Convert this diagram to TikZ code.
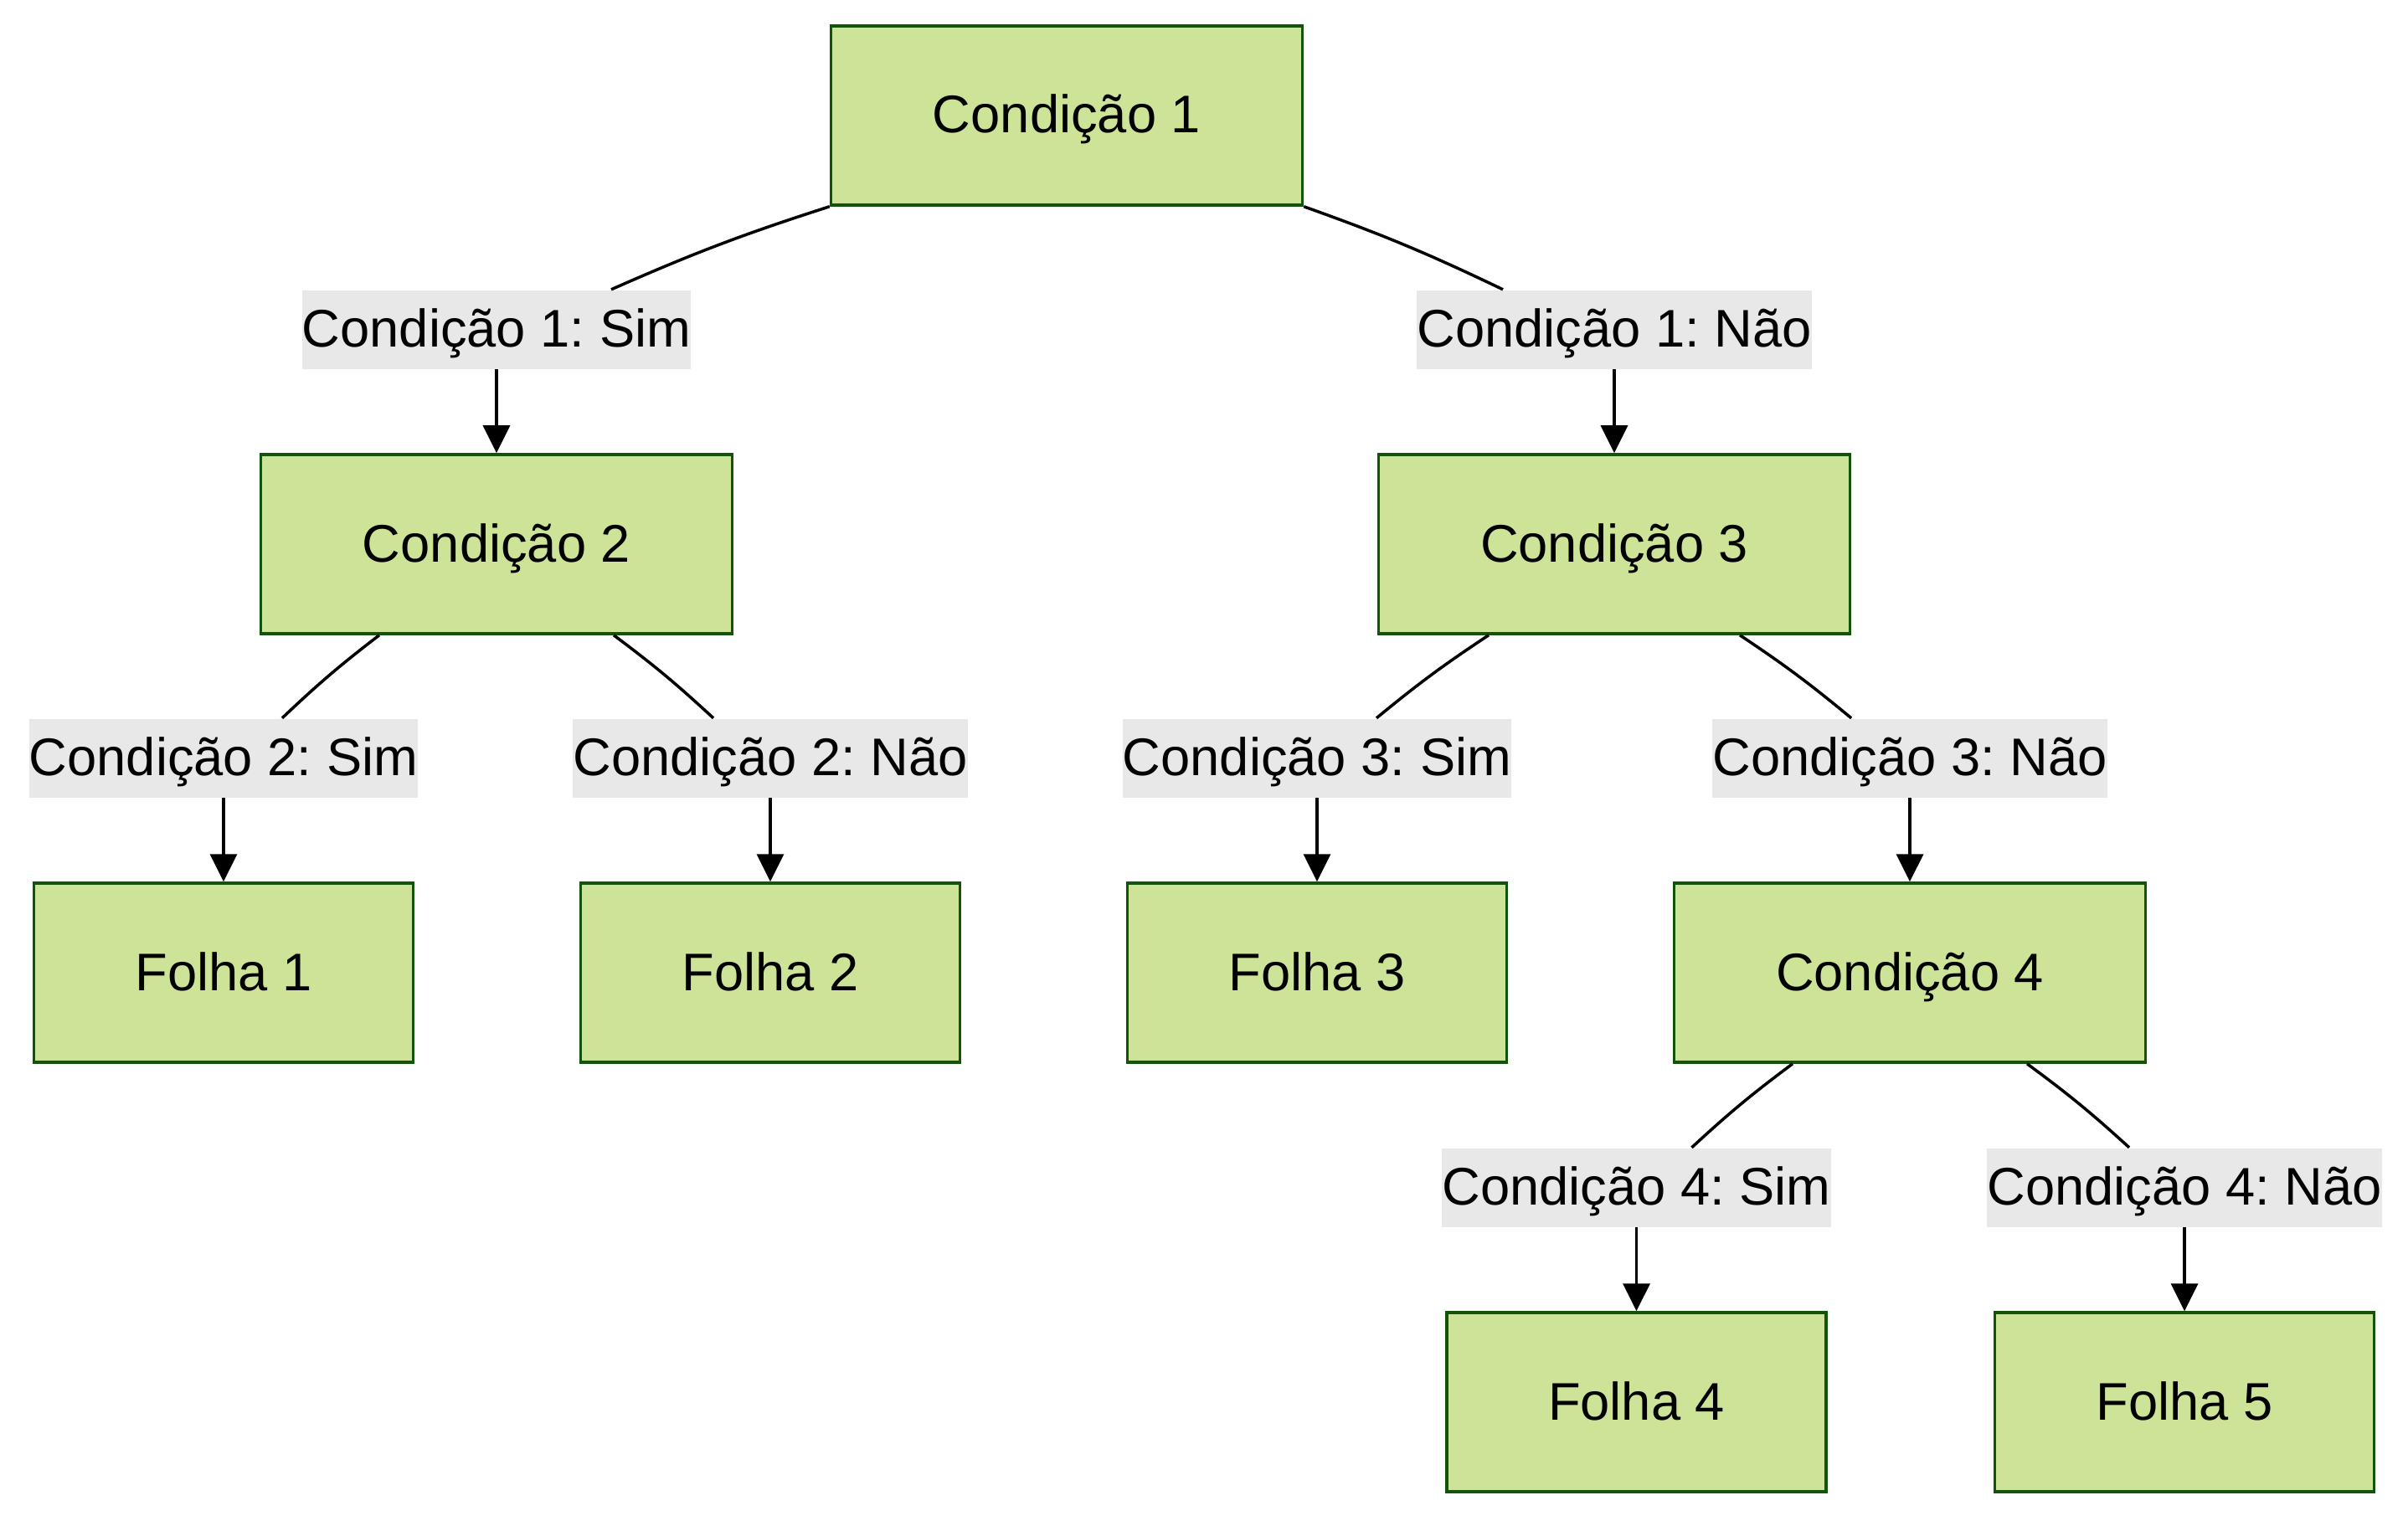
\documentclass[tikz,border=0pt]{standalone}
\usepackage{fontspec}
\setmainfont{Liberation Sans}
\frenchspacing
\usetikzlibrary{arrows.meta,positioning}
\definecolor{boxfill}{HTML}{CDE498}
\definecolor{boxline}{HTML}{13540C}
\definecolor{lblfill}{HTML}{E8E8E8}

\begin{document}
\begin{tikzpicture}[
    font=\fontsize{18}{22}\selectfont,
    txt/.style={text height=0.57cm,text depth=0.15cm},
    cond/.style={txt,draw=boxline,fill=boxfill,line width=1pt,minimum width=5.63cm,minimum height=2.14cm},
    leaf/.style={cond,minimum width=4.53cm},
    lbl/.style={txt,fill=lblfill,inner xsep=0pt,inner ysep=0pt,minimum height=0.94cm},
    link/.style={line width=1pt},
    arr/.style={link,-{Triangle[length=3.3mm,width=3.2mm]}}]
    \useasboundingbox (0,0) rectangle (28.76,-18.16);
    \node[cond] (c1) at (12.74,-1.38) {Condição 1};
    \node[cond] (c2) at (5.93,-6.50) {Condição 2};
    \node[cond] (c3) at (19.28,-6.50) {Condição 3};
    \node[leaf] (f1) at (2.67,-11.62) {Folha 1};
    \node[leaf] (f2) at (9.20,-11.62) {Folha 2};
    \node[leaf] (f3) at (15.73,-11.62) {Folha 3};
    \node[cond] (c4) at (22.81,-11.62) {Condição 4};
    \node[leaf] (f4) at (19.545,-16.75) {Folha 4};
    \node[leaf] (f5) at (26.09,-16.75) {Folha 5};

    \node[lbl] (s1) [above=1cm of c2] {Condição 1: Sim};
    \node[lbl] (n1) [above=1cm of c3] {Condição 1: Não};
    \node[lbl] (s2) [above=1cm of f1] {Condição 2: Sim};
    \node[lbl] (n2) [above=1cm of f2] {Condição 2: Não};
    \node[lbl] (s3) [above=1cm of f3] {Condição 3: Sim};
    \node[lbl] (n3) [above=1cm of c4] {Condição 3: Não};
    \node[lbl] (s4) [above=1cm of f4] {Condição 4: Sim};
    \node[lbl] (n4) [above=1cm of f5] {Condição 4: Não};

    \draw[link] (c1.south west) to[bend right=3] ([xshift=1.37cm]s1.north);
    \draw[arr] (s1) -- (c2);
    \draw[link] (c1.south east) to[bend left=3] ([xshift=-1.33cm]n1.north);
    \draw[arr] (n1) -- (c3);
    \draw[link] ([xshift=-1.4cm]c2.south) to[bend right=3] ([xshift=0.7cm]s2.north);
    \draw[arr] (s2) -- (f1);
    \draw[link] ([xshift=1.4cm]c2.south) to[bend left=3] ([xshift=-0.68cm]n2.north);
    \draw[arr] (n2) -- (f2);
    \draw[link] ([xshift=-1.5cm]c3.south) to[bend right=3] ([xshift=0.71cm]s3.north);
    \draw[arr] (s3) -- (f3);
    \draw[link] ([xshift=1.5cm]c3.south) to[bend left=3] ([xshift=-0.7cm]n3.north);
    \draw[arr] (n3) -- (c4);
    \draw[link] ([xshift=-1.4cm]c4.south) to[bend right=3] ([xshift=0.66cm]s4.north);
    \draw[arr] (s4) -- (f4);
    \draw[link] ([xshift=1.4cm]c4.south) to[bend left=3] ([xshift=-0.66cm]n4.north);
    \draw[arr] (n4) -- (f5);
\end{tikzpicture}
\end{document}
